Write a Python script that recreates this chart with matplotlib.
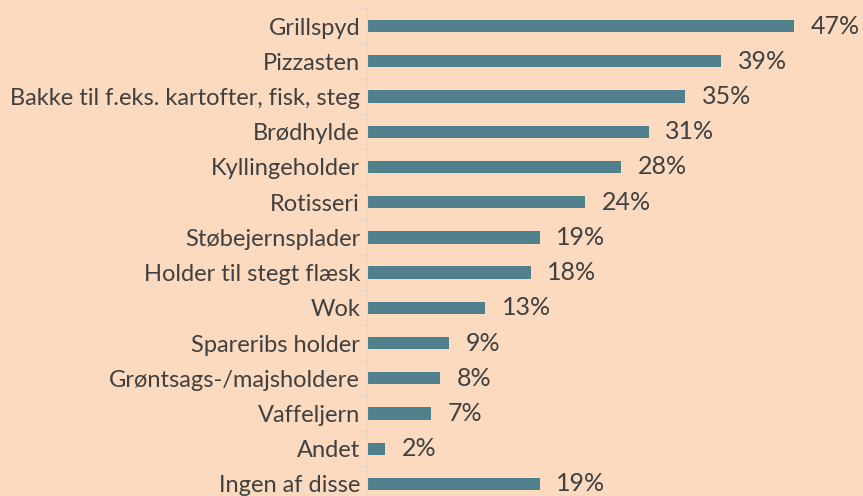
import matplotlib.pyplot as plt
import numpy as np

categories = ["Grillspyd", "Pizzasten", "Bakke til f.eks. kartofter, fisk, steg",
              "Brødhylde", "Kyllingeholder", "Rotisseri", "Støbejernsplader",
              "Holder til stegt flæsk", "Wok", "Spareribs holder",
              "Grøntsags-/majsholdere", "Vaffeljern", "Andet", "Ingen af disse"]
values = [47, 39, 35, 31, 28, 24, 19, 18, 13, 9, 8, 7, 2, 19]

BG = "#FBDAC0"
BAR = "#4F808C"
TXT = "#404040"

plt.rcParams["font.family"] = ["Lato", "DejaVu Sans"]

fig = plt.figure(figsize=(8.63, 4.96), dpi=100, facecolor=BG)
ax = fig.add_axes([0.4253, -0.0113, 0.5474, 0.9943])
ax.set_facecolor(BG)

y = np.arange(len(categories))
ax.barh(y, values, height=0.35, color=BAR)
ax.set_ylim(len(categories) - 0.5, -0.5)
ax.set_xlim(0, 52)

for yi, v in zip(y, values):
    ax.annotate(f"{v}%", (v, yi), xytext=(12, 0), textcoords="offset points",
                va="center", ha="left", fontsize=18, color=TXT)

ax.set_yticks(y)
ax.set_yticklabels(categories, fontsize=17, color=TXT)
ax.tick_params(axis="y", which="major", length=0, pad=5)
ax.set_yticks(np.arange(-0.5, len(categories), 1), minor=True)
ax.tick_params(axis="y", which="minor", length=5, color="#D9D9D9", width=1)
ax.set_xticks([])
for s in ["top", "right", "bottom"]:
    ax.spines[s].set_visible(False)
ax.spines["left"].set_color("#D9D9D9")

fig.savefig("out.png", dpi=100, facecolor=BG)
